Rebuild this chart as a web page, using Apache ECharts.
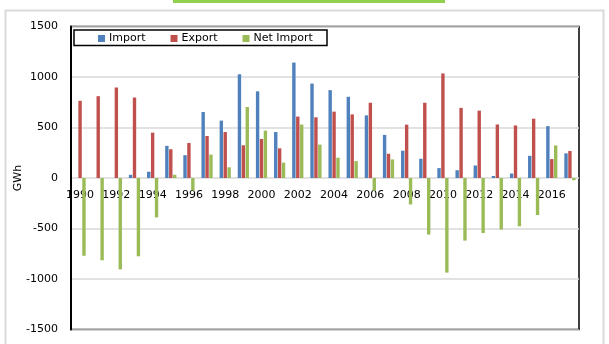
<!DOCTYPE html>
<html>
<head>
<meta charset="utf-8">
<script src="https://cdn.jsdelivr.net/npm/echarts@6/dist/echarts.min.js"></script>
<style>
  html, body { margin: 0; padding: 0; background: #fff; }
  #chart { width: 609px; height: 344px; }
</style>
</head>
<body>
<div id="chart"></div>
<script>
// Yearly electricity trade, GWh
const years = ['1990','1991','1992','1993','1994','1995','1996','1997','1998','1999',
  '2000','2001','2002','2003','2004','2005','2006','2007','2008','2009',
  '2010','2011','2012','2013','2014','2015','2016','2017'];
const importGWh = [0, 0, 0, 32, 62, 318, 226, 653, 568, 1027,
  858, 455, 1143, 935, 870, 804, 620, 427, 270, 191,
  98, 77, 124, 20, 44, 220, 514, 244];
const exportGWh = [764, 810, 896, 797, 449, 285, 347, 416, 455, 324,
  386, 294, 608, 601, 657, 630, 745, 240, 528, 745,
  1035, 694, 667, 530, 520, 587, 187, 267];
const netImportGWh = [-770, -815, -905, -775, -390, 32, -122, 232, 106, 703,
  469, 152, 529, 331, 201, 167, -125, 184, -262, -560,
  -937, -620, -545, -510, -478, -367, 322, -22];
const seriesNames = ['Import', 'Export', 'Net Import'];
const yTicks = { min: -1500, max: 1500, step: 500 };

const FONT = 'DejaVu Sans';
const chart = echarts.init(document.getElementById('chart'), null, { renderer: 'canvas' });

function barSeries(name, data, color) {
  return {
    name: name,
    type: 'bar',
    data: data,
    barWidth: 3.4,
    barGap: '15%',
    z: 4,
    itemStyle: { color: color },
    emphasis: { disabled: true }
  };
}

chart.setOption({
  animation: false,
  backgroundColor: '#fff',
  color: ['#4f81bd', '#c0504d', '#9bbb59'],
  textStyle: { fontFamily: FONT },
  graphic: [
    { type: 'rect', shape: { x: 5.5, y: 10.5, width: 598, height: 340 },
      style: { fill: 'none', stroke: '#d9d9d9', lineWidth: 2 }, z: 0 },
    { type: 'rect', shape: { x: 173, y: 0, width: 272, height: 3 },
      style: { fill: '#92d050' }, z: 0 },
    { type: 'rect', shape: { x: 74, y: 30, width: 253, height: 15.5 },
      style: { fill: '#fff', stroke: '#000', lineWidth: 1.5 }, z: 5 }
  ],
  legend: {
    data: seriesNames,
    left: 98, top: 33,
    itemWidth: 7, itemHeight: 7, itemGap: 25,
    icon: 'rect',
    textStyle: { fontFamily: FONT, fontSize: 11, color: '#000', padding: [0, 0, 0, -1] },
    padding: 0,
    z: 10
  },
  grid: {
    left: 71, right: 30, top: 26.5, bottom: 14.5,
    outerBoundsMode: 'none',
    containLabel: false,
    show: true, borderColor: '#000', borderWidth: 1.5, backgroundColor: '#fff'
  },
  xAxis: {
    type: 'category',
    data: years,
    z: 1,
    axisLine: { onZero: false, show: false },
    axisTick: { show: false },
    axisLabel: { interval: 1, margin: 12, fontFamily: FONT, fontSize: 11, color: '#000' },
    splitLine: { show: false }
  },
  yAxis: {
    type: 'value',
    min: yTicks.min, max: yTicks.max, interval: yTicks.step,
    name: 'GWh', nameLocation: 'middle', nameGap: 47, nameRotate: 90,
    nameMoveOverlap: false,
    nameTextStyle: { fontFamily: FONT, fontSize: 11, color: '#000' },
    axisLine: { show: true, lineStyle: { color: '#000', width: 2 } },
    axisTick: { show: false },
    axisLabel: { margin: 13, fontFamily: FONT, fontSize: 11, color: '#000',
      formatter: function (v) { return String(v); } },
    splitLine: { lineStyle: { color: '#d9d9d9', width: 1.5 } }
  },
  series: [
    barSeries(seriesNames[0], importGWh, '#4f81bd'),
    barSeries(seriesNames[1], exportGWh, '#c0504d'),
    barSeries(seriesNames[2], netImportGWh, '#9bbb59')
  ]
});

// Lift the category labels up to the zero line of the value axis
const zeroY = chart.convertToPixel({ yAxisIndex: 0 }, 0);
const floorY = chart.convertToPixel({ yAxisIndex: 0 }, yTicks.min);
chart.setOption({ xAxis: { offset: zeroY - floorY } });
</script>
</body>
</html>
